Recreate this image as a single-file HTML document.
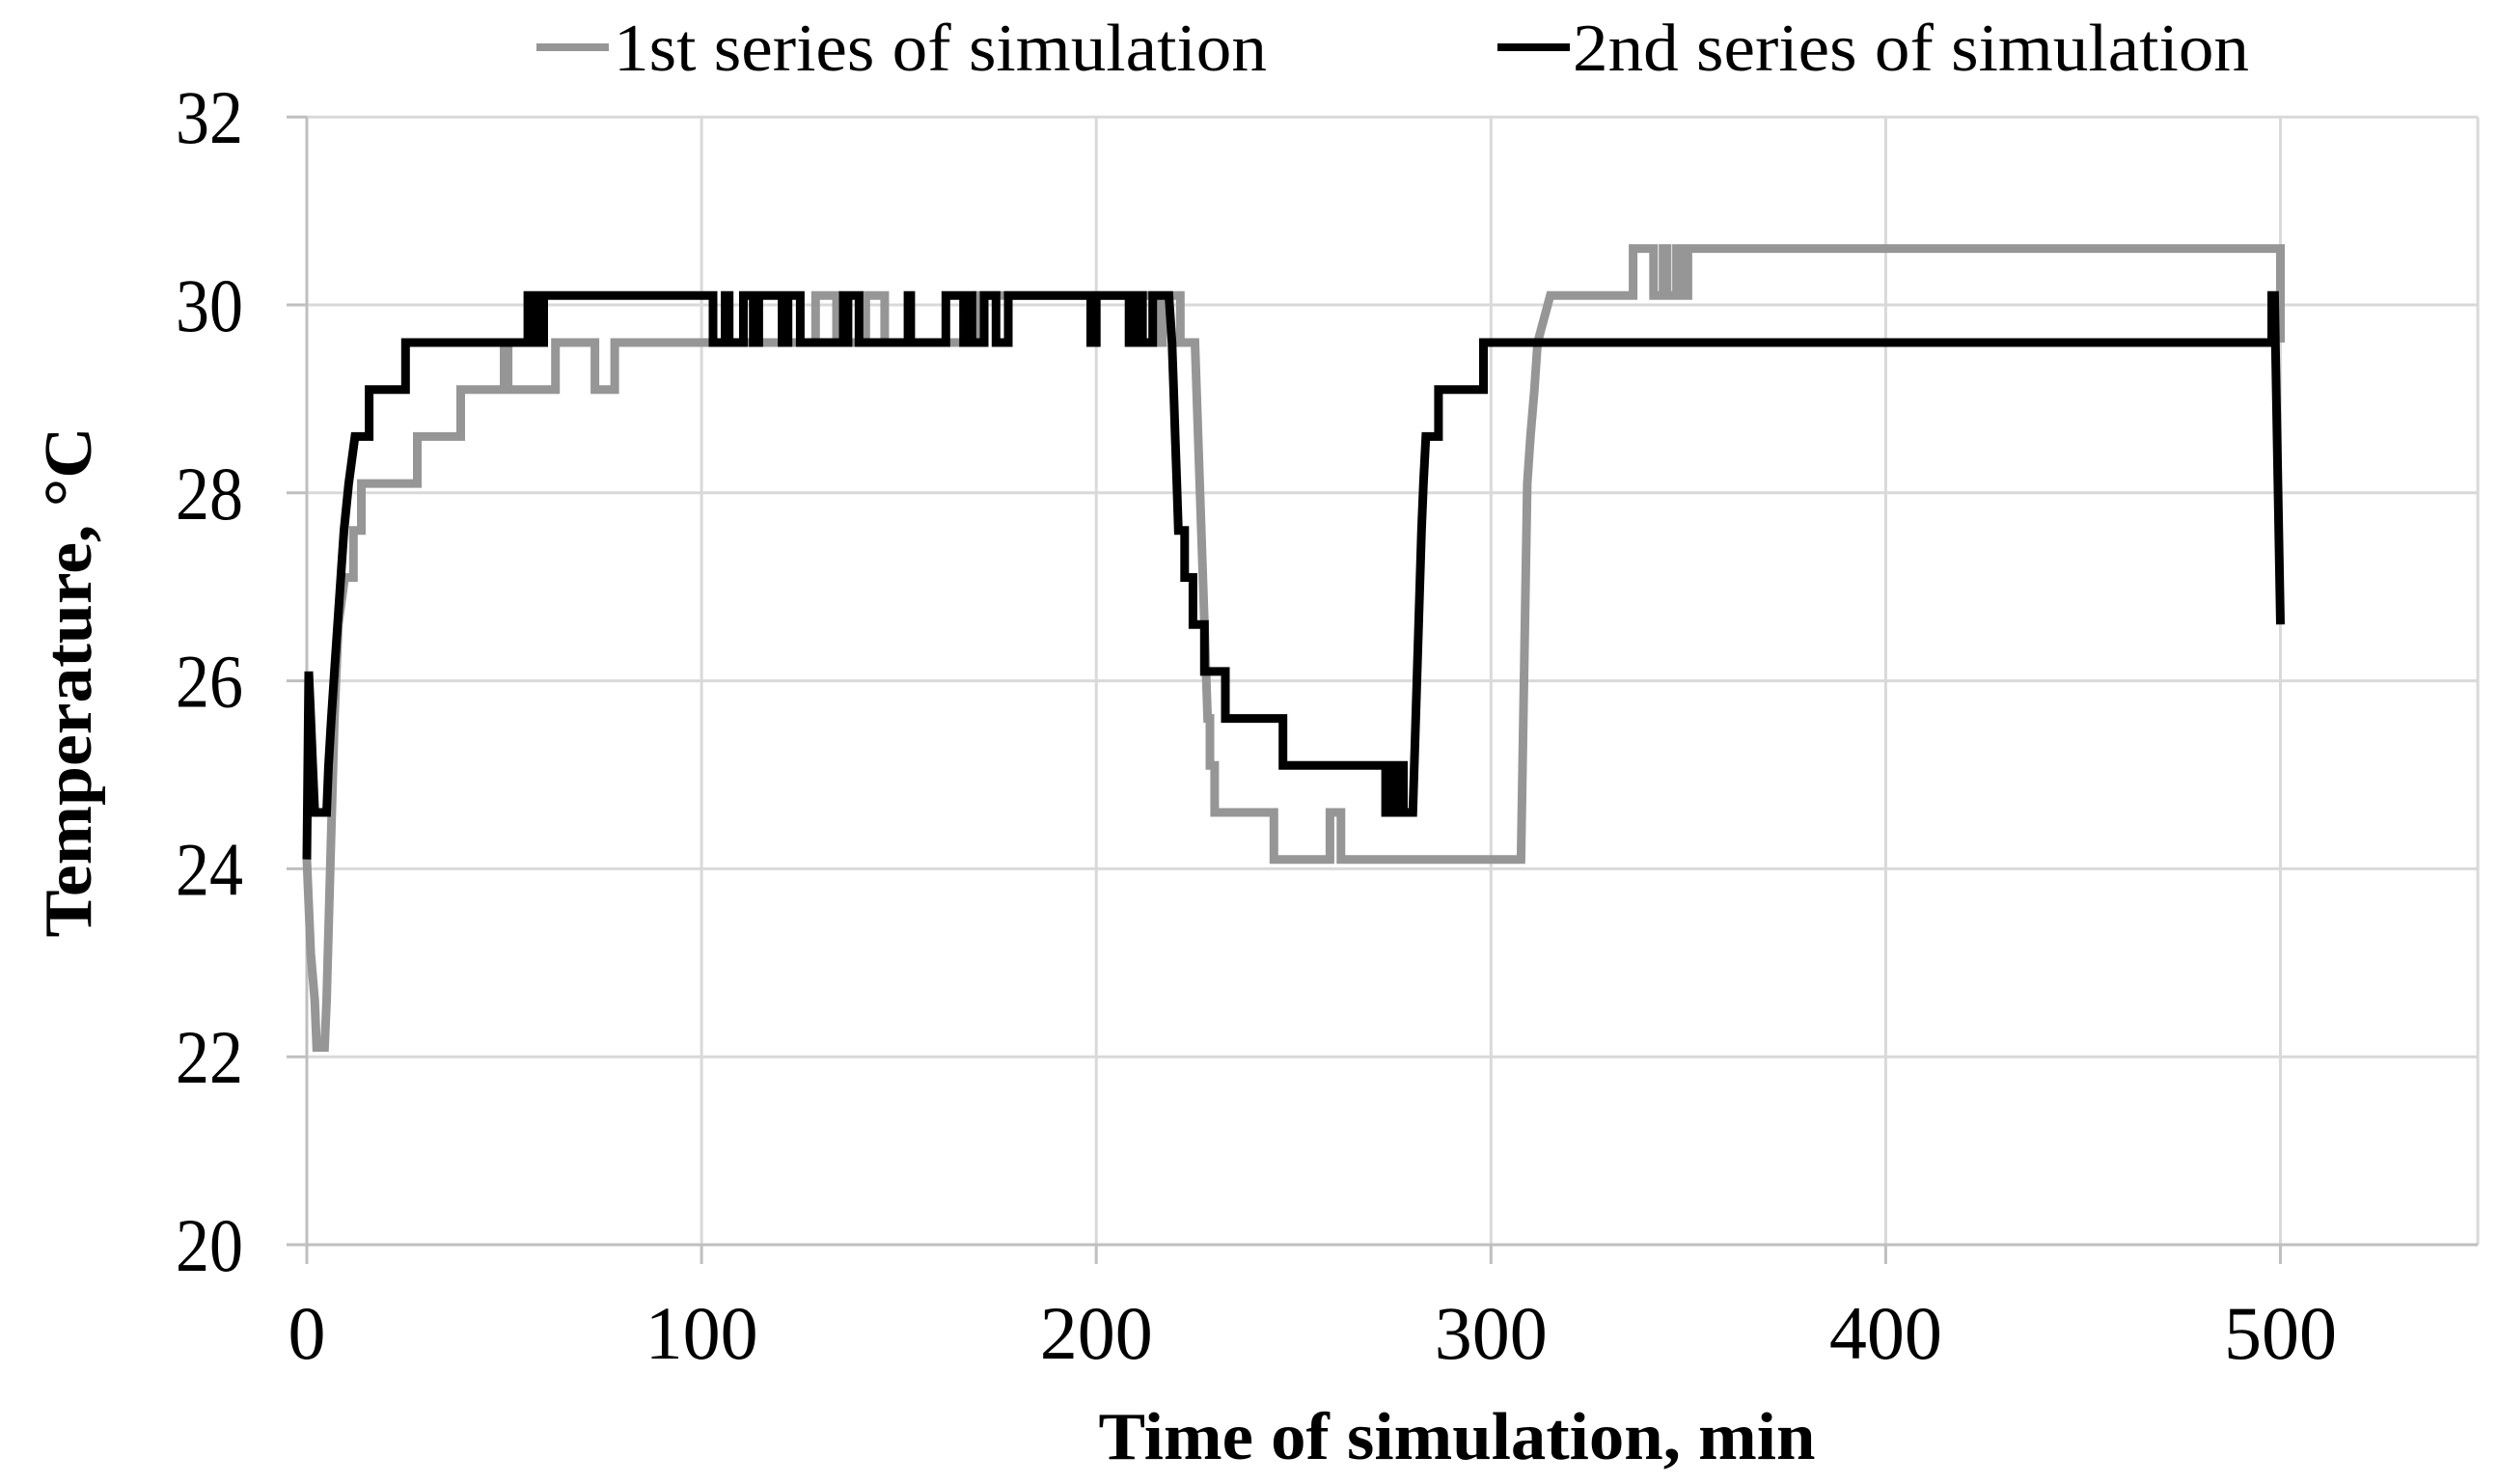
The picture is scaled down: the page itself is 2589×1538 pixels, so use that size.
<!DOCTYPE html>
<html><head><meta charset="utf-8"><style>
html,body{margin:0;padding:0;background:#fff;}
svg{display:block;}
text{font-family:"Liberation Serif","Times New Roman",serif;fill:#000;}
</style></head><body>
<svg id="chart" width="2589" height="1538" viewBox="0 0 2589 1538" xmlns="http://www.w3.org/2000/svg">
<g id="grid"></g>
<g id="axes"></g>
<g id="series"></g>
<g>
  <line x1="556" y1="49" x2="631" y2="49" stroke="#969696" stroke-width="8"/>
  <text x="636" y="73" font-size="70" textLength="677" lengthAdjust="spacingAndGlyphs">1st series of simulation</text>
  <line x1="1552" y1="49" x2="1627" y2="49" stroke="#000" stroke-width="8"/>
  <text x="1630" y="73" font-size="70" textLength="701" lengthAdjust="spacingAndGlyphs">2nd series of simulation</text>
</g>
<text x="1510" y="1512" font-size="70" font-weight="bold" text-anchor="middle" textLength="743" lengthAdjust="spacingAndGlyphs">Time of simulation, min</text>
<text transform="translate(94,707) rotate(-90)" font-size="70" font-weight="bold" text-anchor="middle" textLength="529" lengthAdjust="spacingAndGlyphs">Temperature, °C</text>
</svg>
<script>
const xTicks = [0, 100, 200, 300, 400, 500];
const yTicks = [20, 22, 24, 26, 28, 30, 32];
const s1Time = [0,1,2,2.5,4.5,5,6,7,8,9.6,11.8,11.8,13.8,13.8,28,28,39,39,50,50,51,51,63,63,73,73,78,78,128.9,128.9,134.2,134.2,141.6,141.6,146.4,146.4,170,170,215,215,216.8,216.8,221.3,221.3,225,228.2,228.8,228.8,230,230,245,245,259.2,259.2,262,262,307.6,309.2,310,311,311.8,315,336,336,341.2,341.2,343.6,343.6,344.6,344.6,347,347,348.3,348.3,349.9,349.9,500,500];
const s1Temp = [24.1,23.1,22.6,22.1,22.1,22.6,24.1,25.6,26.6,27.1,27.1,27.6,27.6,28.1,28.1,28.6,28.6,29.1,29.1,29.6,29.6,29.1,29.1,29.6,29.6,29.1,29.1,29.6,29.6,30.1,30.1,29.6,29.6,30.1,30.1,29.6,29.6,30.1,30.1,29.6,29.6,30.1,30.1,29.6,29.6,25.6,25.6,25.1,25.1,24.6,24.6,24.1,24.1,24.6,24.6,24.1,24.1,28.1,28.6,29.1,29.6,30.1,30.1,30.6,30.6,30.1,30.1,30.6,30.6,30.1,30.1,30.6,30.6,30.1,30.1,30.6,30.6,29.6];
const s2Time = [0,0.5,1,1.5,2,5,5.5,6.2,7,7.8,8.6,9.4,10.6,12.2,15.8,15.8,25,25,56,56,58,58,60,60,102.9,102.9,106,106,107,107,110.6,110.6,113.1,113.1,114.5,114.5,120.4,120.4,121.9,121.9,125,125,135.9,135.9,136.2,136.2,137.1,137.1,139.9,139.9,152.3,152.3,153,153,161.9,161.9,166.4,166.4,168,168,168.5,168.5,171.6,171.6,174.6,174.6,177.7,177.7,198.6,198.6,200,200,208.3,208.3,210,210,211.7,211.7,214.3,214.3,218.4,219.2,219.6,220,220.4,220.8,222.4,222.4,224.5,224.5,227.4,227.4,232.7,232.7,247.3,247.3,273.3,273.3,274.5,274.5,275.5,275.5,276.5,276.5,277.8,277.8,280.2,282.4,282.9,283.5,286.7,286.7,298.1,298.1,497.8,497.8,498.5,500];
const s2Temp = [24.1,26.1,25.6,25.1,24.6,24.6,25.1,25.6,26.1,26.6,27.1,27.6,28.1,28.6,28.6,29.1,29.1,29.6,29.6,30.1,30.1,29.6,29.6,30.1,30.1,29.6,29.6,30.1,30.1,29.6,29.6,30.1,30.1,29.6,29.6,30.1,30.1,29.6,29.6,30.1,30.1,29.6,29.6,30.1,30.1,29.6,29.6,30.1,30.1,29.6,29.6,30.1,30.1,29.6,29.6,30.1,30.1,29.6,29.6,30.1,30.1,29.6,29.6,30.1,30.1,29.6,29.6,30.1,30.1,29.6,29.6,30.1,30.1,29.6,29.6,30.1,30.1,29.6,29.6,30.1,30.1,29.6,29.1,28.6,28.1,27.6,27.6,27.1,27.1,26.6,26.6,26.1,26.1,25.6,25.6,25.1,25.1,24.6,24.6,25.1,25.1,24.6,24.6,25.1,25.1,24.6,24.6,27.6,28.1,28.6,28.6,29.1,29.1,29.6,29.6,30.1,30.1,26.6];

const X0 = 318, XPER = 4.091, Y20 = 1290, YPER = 97.4;
function xs(t){ return X0 + t * XPER; }
function ys(v){ return Y20 - (v - 20) * YPER; }
const NS = 'http://www.w3.org/2000/svg';
function mk(tag, attrs, parent){
  const e = document.createElementNS(NS, tag);
  for (const k in attrs) e.setAttribute(k, attrs[k]);
  parent.appendChild(e); return e;
}
const grid = document.getElementById('grid');
const axes = document.getElementById('axes');
const series = document.getElementById('series');
const xEnd = xs(550);

yTicks.forEach(v => {
  const y = ys(v);
  if (v > 20) {
    const g = mk('line', {x1: X0, y1: y, x2: xEnd, y2: y, stroke: '#d9d9d9', 'stroke-width': 3}, grid);
    
    
  }
  const tk = mk('line', {x1: X0 - 21, y1: y, x2: X0, y2: y, stroke: '#bfbfbf', 'stroke-width': 3}, axes);
  
  
  const lb = mk('text', {x: 252, y: y + 27, 'font-size': 78, 'text-anchor': 'end', textLength: 70, lengthAdjust: 'spacingAndGlyphs'}, axes);
  lb.textContent = v;
  
  
});
xTicks.forEach(t => {
  const x = xs(t);
  if (t > 0) {
    const g = mk('line', {x1: x, y1: ys(32), x2: x, y2: Y20, stroke: '#d9d9d9', 'stroke-width': 3}, grid);
    
    
  }
  const tk = mk('line', {x1: x, y1: Y20, x2: x, y2: Y20 + 20, stroke: '#bfbfbf', 'stroke-width': 3}, axes);
  
  
  const lb = mk('text', {x: x, y: 1408, 'font-size': 78, 'text-anchor': 'middle'}, axes);
  lb.textContent = t;
  
  
});
const rb = mk('line', {x1: xEnd, y1: ys(32), x2: xEnd, y2: Y20, stroke: '#d9d9d9', 'stroke-width': 3}, grid);


const ya = mk('line', {x1: X0, y1: ys(32), x2: X0, y2: Y20 + 20, stroke: '#bfbfbf', 'stroke-width': 3}, axes);


const xa = mk('line', {x1: X0 - 21, y1: Y20, x2: xEnd, y2: Y20, stroke: '#bfbfbf', 'stroke-width': 3}, axes);



function pts(ts, vs){ return ts.map((t, i) => xs(t).toFixed(1) + ',' + ys(vs[i]).toFixed(1)).join(' '); }
const p1 = mk('polyline', {points: pts(s1Time, s1Temp), fill: 'none', stroke: '#969696', 'stroke-width': 9, 'stroke-linejoin': 'miter'}, series);


const p2 = mk('polyline', {points: pts(s2Time, s2Temp), fill: 'none', stroke: '#000', 'stroke-width': 9, 'stroke-linejoin': 'miter'}, series);


</script>
</body></html>
